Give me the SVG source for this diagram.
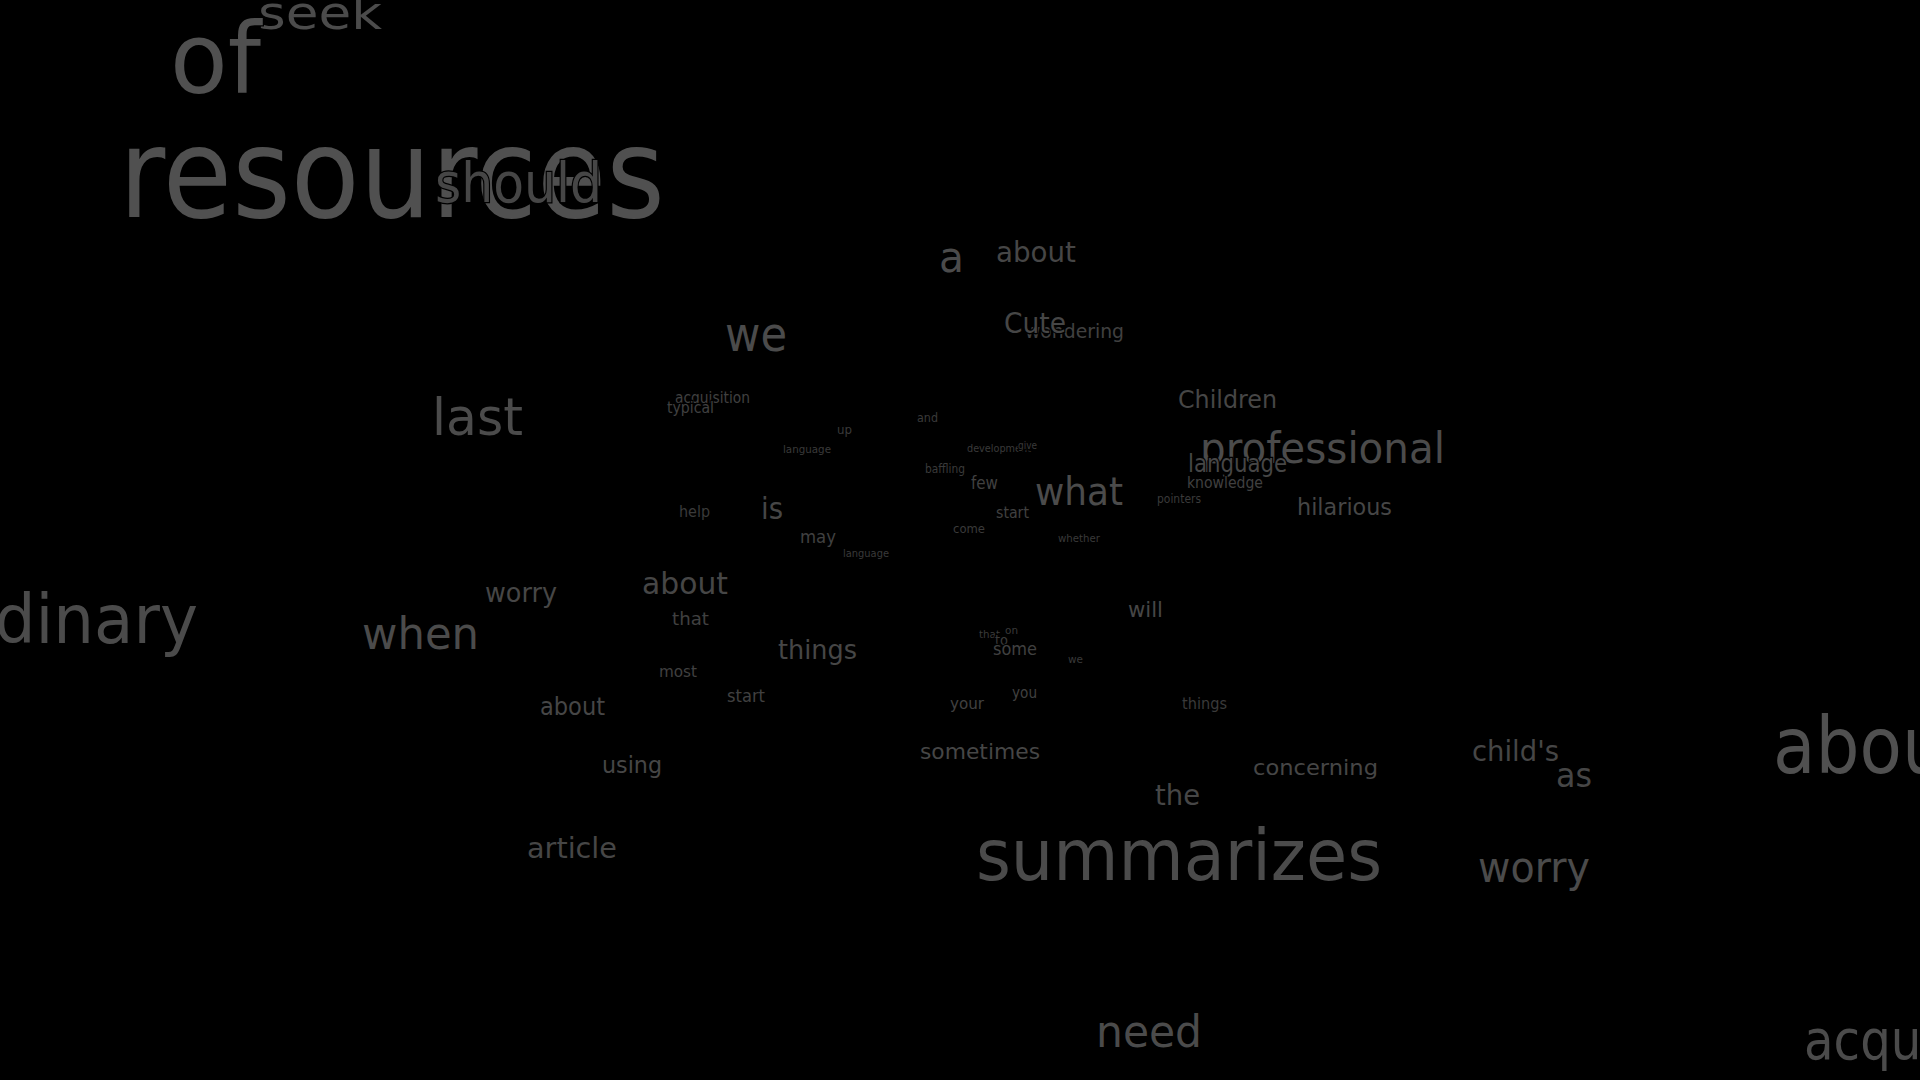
<svg xmlns="http://www.w3.org/2000/svg" width="1920" height="1080" viewBox="0 0 1920 1080">
<style>
text{font-family:"DejaVu Sans","Liberation Sans",sans-serif;stroke:#000;stroke-width:2.5px;paint-order:stroke;}
.c1{fill:#505050}
.c2{fill:#4b4b4b}
.c3{fill:#464646}
.c4{fill:#404040}
.c5{fill:#3a3a3a}
</style>
<rect x="0" y="0" width="1920" height="1080" fill="#000"/>
<g id="words">
<text class="c2" x="258" y="29" font-size="46" textLength="124" lengthAdjust="spacingAndGlyphs">seek</text>
<text class="c1" x="170" y="93" font-size="98" textLength="91" lengthAdjust="spacingAndGlyphs">of</text>
<text class="c1" x="119" y="217" font-size="124" textLength="546" lengthAdjust="spacingAndGlyphs">resources</text>
<text class="c3" x="435" y="202" font-size="55" textLength="167" lengthAdjust="spacingAndGlyphs">should</text>
<text class="c2" x="939" y="272" font-size="42" textLength="25" lengthAdjust="spacingAndGlyphs">a</text>
<text class="c3" x="996" y="262" font-size="28" textLength="80" lengthAdjust="spacingAndGlyphs">about</text>
<text class="c2" x="725" y="351" font-size="48" textLength="62" lengthAdjust="spacingAndGlyphs">we</text>
<text class="c4" x="1025" y="338" font-size="20" textLength="99" lengthAdjust="spacingAndGlyphs">wondering</text>
<text class="c3" x="1004" y="333" font-size="29" textLength="62" lengthAdjust="spacingAndGlyphs">Cute</text>
<text class="c2" x="432" y="435" font-size="52" textLength="91" lengthAdjust="spacingAndGlyphs">last</text>
<text class="c4" x="675" y="403" font-size="15" textLength="75" lengthAdjust="spacingAndGlyphs">acquisition</text>
<text class="c4" x="667" y="413" font-size="15" textLength="47" lengthAdjust="spacingAndGlyphs">typical</text>
<text class="c5" x="837" y="434" font-size="13" textLength="15" lengthAdjust="spacingAndGlyphs">up</text>
<text class="c5" x="917" y="422" font-size="12" textLength="21" lengthAdjust="spacingAndGlyphs">and</text>
<text class="c5" x="783" y="453" font-size="11" textLength="48" lengthAdjust="spacingAndGlyphs">language</text>
<text class="c5" x="967" y="452" font-size="11" textLength="64" lengthAdjust="spacingAndGlyphs">development</text>
<text class="c5" x="1018" y="449" font-size="10" textLength="19" lengthAdjust="spacingAndGlyphs">give</text>
<text class="c5" x="925" y="473" font-size="12" textLength="40" lengthAdjust="spacingAndGlyphs">baffling</text>
<text class="c4" x="971" y="489" font-size="17" textLength="27" lengthAdjust="spacingAndGlyphs">few</text>
<text class="c5" x="679" y="517" font-size="15" textLength="31" lengthAdjust="spacingAndGlyphs">help</text>
<text class="c3" x="761" y="519" font-size="30" textLength="22" lengthAdjust="spacingAndGlyphs">is</text>
<text class="c4" x="996" y="518" font-size="16" textLength="33" lengthAdjust="spacingAndGlyphs">start</text>
<text class="c5" x="953" y="533" font-size="13" textLength="32" lengthAdjust="spacingAndGlyphs">come</text>
<text class="c4" x="800" y="543" font-size="18" textLength="36" lengthAdjust="spacingAndGlyphs">may</text>
<text class="c5" x="843" y="557" font-size="10.5" textLength="46" lengthAdjust="spacingAndGlyphs">language</text>
<text class="c2" x="1035" y="505" font-size="39" textLength="88" lengthAdjust="spacingAndGlyphs">what</text>
<text class="c5" x="1058" y="542" font-size="11" textLength="42" lengthAdjust="spacingAndGlyphs">whether</text>
<text class="c3" x="1178" y="408" font-size="24" textLength="99" lengthAdjust="spacingAndGlyphs">Children</text>
<text class="c2" x="1200" y="463" font-size="43" textLength="245" lengthAdjust="spacingAndGlyphs">professional</text>
<text class="c3" x="1188" y="472" font-size="24" textLength="99" lengthAdjust="spacingAndGlyphs">language</text>
<text class="c4" x="1187" y="488" font-size="16" textLength="76" lengthAdjust="spacingAndGlyphs">knowledge</text>
<text class="c5" x="1157" y="503" font-size="12" textLength="44" lengthAdjust="spacingAndGlyphs">pointers</text>
<text class="c3" x="1297" y="515" font-size="23" textLength="95" lengthAdjust="spacingAndGlyphs">hilarious</text>
<text class="c2" x="-70" y="643" font-size="68" textLength="268" lengthAdjust="spacingAndGlyphs">ordinary</text>
<text class="c2" x="362" y="649" font-size="44" textLength="117" lengthAdjust="spacingAndGlyphs">when</text>
<text class="c3" x="485" y="602" font-size="27" textLength="72" lengthAdjust="spacingAndGlyphs">worry</text>
<text class="c3" x="642" y="594" font-size="31" textLength="86" lengthAdjust="spacingAndGlyphs">about</text>
<text class="c4" x="672" y="625" font-size="18" textLength="37" lengthAdjust="spacingAndGlyphs">that</text>
<text class="c3" x="778" y="659" font-size="27" textLength="79" lengthAdjust="spacingAndGlyphs">things</text>
<text class="c4" x="659" y="677" font-size="16" textLength="38" lengthAdjust="spacingAndGlyphs">most</text>
<text class="c4" x="727" y="702" font-size="17" textLength="38" lengthAdjust="spacingAndGlyphs">start</text>
<text class="c3" x="540" y="715" font-size="24" textLength="65" lengthAdjust="spacingAndGlyphs">about</text>
<text class="c3" x="602" y="773" font-size="23" textLength="60" lengthAdjust="spacingAndGlyphs">using</text>
<text class="c3" x="527" y="858" font-size="29" textLength="90" lengthAdjust="spacingAndGlyphs">article</text>
<text class="c3" x="1128" y="617" font-size="22" textLength="35" lengthAdjust="spacingAndGlyphs">will</text>
<text class="c5" x="979" y="638" font-size="11" textLength="21" lengthAdjust="spacingAndGlyphs">that</text>
<text class="c5" x="1005" y="634" font-size="11" textLength="13" lengthAdjust="spacingAndGlyphs">on</text>
<text class="c5" x="995" y="645" font-size="14" textLength="13" lengthAdjust="spacingAndGlyphs">to</text>
<text class="c4" x="993" y="655" font-size="18" textLength="44" lengthAdjust="spacingAndGlyphs">some</text>
<text class="c5" x="1068" y="663" font-size="11" textLength="15" lengthAdjust="spacingAndGlyphs">we</text>
<text class="c4" x="1012" y="698" font-size="15" textLength="25" lengthAdjust="spacingAndGlyphs">you</text>
<text class="c4" x="950" y="709" font-size="16" textLength="34" lengthAdjust="spacingAndGlyphs">your</text>
<text class="c5" x="1182" y="709" font-size="15" textLength="45" lengthAdjust="spacingAndGlyphs">things</text>
<text class="c3" x="920" y="759" font-size="22" textLength="120" lengthAdjust="spacingAndGlyphs">sometimes</text>
<text class="c3" x="1253" y="775" font-size="22" textLength="125" lengthAdjust="spacingAndGlyphs">concerning</text>
<text class="c3" x="1155" y="805" font-size="28" textLength="45" lengthAdjust="spacingAndGlyphs">the</text>
<text class="c2" x="976" y="880" font-size="72" textLength="406" lengthAdjust="spacingAndGlyphs">summarizes</text>
<text class="c3" x="1472" y="761" font-size="29" textLength="87" lengthAdjust="spacingAndGlyphs">child's</text>
<text class="c3" x="1556" y="787" font-size="34" textLength="36" lengthAdjust="spacingAndGlyphs">as</text>
<text class="c2" x="1478" y="882" font-size="42" textLength="112" lengthAdjust="spacingAndGlyphs">worry</text>
<text class="c1" x="1773" y="773" font-size="78" textLength="200" lengthAdjust="spacingAndGlyphs">about</text>
<text class="c2" x="1096" y="1047" font-size="45" textLength="106" lengthAdjust="spacingAndGlyphs">need</text>
<text class="c2" x="1804" y="1059" font-size="55" textLength="262" lengthAdjust="spacingAndGlyphs">acquisition</text>
</g>
</svg>
